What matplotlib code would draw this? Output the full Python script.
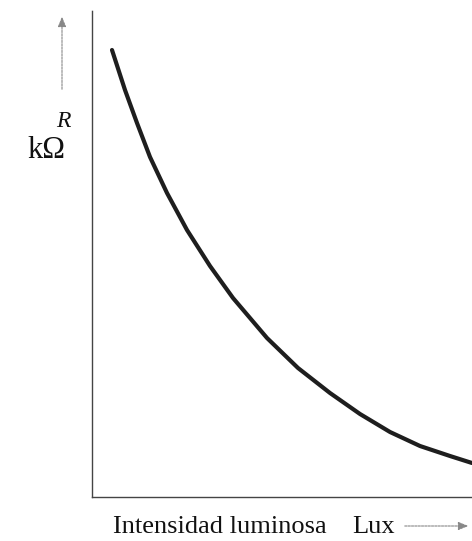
import matplotlib
matplotlib.use("Agg")
import matplotlib.pyplot as plt
from matplotlib.patches import FancyArrowPatch

# curve (arbitrary units, no scale given)
lux = [20, 33, 45, 58, 75, 95, 118, 141, 175, 206, 238, 268, 298, 328, 358, 380]
r_kohm = [447, 407, 374, 340, 304, 267, 231, 199, 159, 129, 104, 83, 65, 51, 41, 34]

W, H = 472, 541
fig = plt.figure(figsize=(W / 100, H / 100), dpi=100)
ax = fig.add_axes([92 / W, 44 / H, 380 / W, 487 / H])

ax.plot(lux, r_kohm, color="#1e1e1e", linewidth=3.0,
        solid_capstyle="round", solid_joinstyle="round")
ax.set_xlim(0, 380)
ax.set_ylim(0, 487)
ax.set_xticks([])
ax.set_yticks([])

for side in ["top", "right"]:
    ax.spines[side].set_visible(False)
for side in ["left", "bottom"]:
    ax.spines[side].set_linestyle((0, (2, 1)))
    ax.spines[side].set_color("#444444")
    ax.spines[side].set_linewidth(1.0)

serif = ["Liberation Serif", "DejaVu Serif"]


def fy(py):
    return 1 - py / H


# y-axis label with arrow
fig.text(63 / W, fy(127), "R", family=serif, style="italic",
         fontsize=17, ha="center", va="baseline", color="#111111")
fig.text(46 / W, fy(158), "kΩ", family=serif, fontsize=22,
         ha="center", va="baseline", color="#111111")
fig.add_artist(FancyArrowPatch(
    (62 / W, fy(92)), (62 / W, fy(14)), transform=fig.transFigure,
    arrowstyle="-|>,head_length=6,head_width=2.5",
    color="#888888", linewidth=0.8, linestyle=(0, (2, 1))))

# x-axis label with arrow
fig.text(220 / W, fy(533), "Intensidad luminosa", family=serif,
         fontsize=19, ha="center", va="baseline", color="#111111")
fig.text(374 / W, fy(533), "Lux", family=serif, fontsize=19,
         ha="center", va="baseline", color="#111111")
fig.add_artist(FancyArrowPatch(
    (402 / W, fy(526)), (471 / W, fy(526)), transform=fig.transFigure,
    arrowstyle="-|>,head_length=6,head_width=2.5",
    color="#888888", linewidth=0.8, linestyle=(0, (2, 1))))

fig.savefig("out.png", dpi=100)
